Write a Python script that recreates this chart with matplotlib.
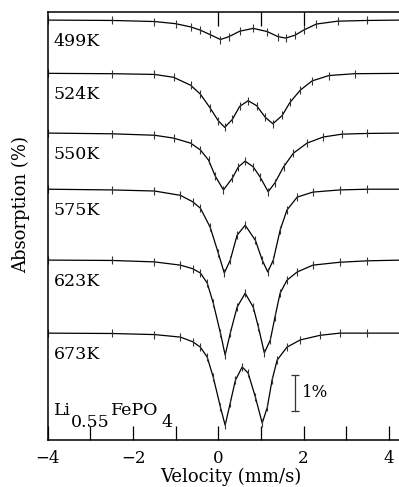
import matplotlib
matplotlib.use('Agg')
import matplotlib.pyplot as plt
from matplotlib.ticker import MultipleLocator

plt.rcParams['font.family'] = ['DejaVu Serif']

# fitted spectra, absorption depth (%)
temps = ['499K', '524K', '550K', '575K', '623K', '673K']
baselines = [11.67, 10.19, 8.53, 6.97, 5.0, 2.97]

v_499 = [-4, -2.5, -1.5, -1.0, -0.65, -0.42, -0.2, 0.05, 0.25, 0.5, 0.82, 1.15, 1.4, 1.58, 1.8, 2.0, 2.3, 2.8, 3.5, 4.3]
d_499 = [0, 0.01, 0.04, 0.1, 0.19, 0.28, 0.4, 0.54, 0.46, 0.31, 0.23, 0.32, 0.46, 0.5, 0.42, 0.28, 0.11, 0.03, 0.01, 0]

v_524 = [-4, -2.5, -1.5, -1.05, -0.65, -0.42, -0.2, 0, 0.15, 0.33, 0.5, 0.7, 0.9, 1.1, 1.28, 1.5, 1.68, 1.92, 2.2, 2.6, 3.2, 4.3]
d_524 = [0, 0.01, 0.03, 0.11, 0.33, 0.58, 0.95, 1.32, 1.5, 1.28, 0.92, 0.76, 0.9, 1.22, 1.4, 1.17, 0.81, 0.47, 0.21, 0.06, 0.01, 0]

v_550 = [-4, -2.5, -1.5, -1.05, -0.65, -0.42, -0.23, -0.07, 0.12, 0.33, 0.47, 0.63, 0.82, 0.98, 1.17, 1.33, 1.53, 1.76, 2.08, 2.46, 2.9, 3.5, 4.3]
d_550 = [0, 0.02, 0.06, 0.14, 0.28, 0.47, 0.75, 1.2, 1.58, 1.25, 0.94, 0.78, 0.94, 1.22, 1.63, 1.38, 0.94, 0.56, 0.28, 0.11, 0.03, 0.01, 0]

v_575 = [-4, -2.5, -1.5, -0.89, -0.6, -0.42, -0.19, 0, 0.14, 0.28, 0.44, 0.63, 0.87, 1.03, 1.16, 1.29, 1.45, 1.61, 1.85, 2.22, 2.85, 3.5, 4.3]
d_575 = [0, 0.02, 0.05, 0.17, 0.35, 0.53, 1.06, 1.78, 2.33, 1.97, 1.28, 1.0, 1.42, 1.97, 2.3, 1.97, 1.14, 0.58, 0.22, 0.08, 0.02, 0, 0]

v_623 = [-4, -2.5, -1.5, -0.89, -0.6, -0.42, -0.26, -0.12, 0.05, 0.16, 0.28, 0.44, 0.63, 0.82, 0.94, 1.08, 1.22, 1.33, 1.45, 1.61, 1.85, 2.22, 2.85, 3.5, 4.3]
d_623 = [0, 0.01, 0.05, 0.14, 0.24, 0.36, 0.64, 1.19, 2.03, 2.64, 2.03, 1.31, 0.92, 1.31, 1.86, 2.58, 2.22, 1.58, 0.92, 0.56, 0.33, 0.14, 0.06, 0.02, 0]

v_673 = [-4, -2.5, -1.5, -0.89, -0.6, -0.42, -0.26, -0.12, 0.05, 0.16, 0.28, 0.4, 0.56, 0.7, 0.87, 1.03, 1.15, 1.26, 1.38, 1.61, 1.92, 2.39, 2.85, 3.5, 4.3]
d_673 = [0, 0.01, 0.04, 0.11, 0.24, 0.39, 0.67, 1.22, 2.06, 2.56, 1.94, 1.31, 0.94, 1.11, 1.78, 2.5, 2.06, 1.31, 0.75, 0.39, 0.19, 0.06, 0, 0, 0]

velocities = [v_499, v_524, v_550, v_575, v_623, v_673]
depths = [d_499, d_524, d_550, d_575, d_623, d_673]

fig = plt.figure(figsize=(3.99, 4.87), dpi=100)
ax = fig.add_axes([0.12, 0.0965, 0.88, 0.8785])

for i in range(len(temps)):
    y = [baselines[i] - d for d in depths[i]]
    ax.plot(velocities[i], y, color='black', lw=0.9)
    ax.plot(velocities[i], y, ls='none', marker='|', ms=6, mew=0.8, color='#333333')
    ax.text(-3.86, baselines[i] - 0.36, temps[i], fontsize=12.5, va='top', ha='left')

# 1% scale bar
ax.errorbar([1.8], [1.31], yerr=[0.5], color='#333333', lw=0.9, capsize=3, capthick=0.9)
ax.text(1.97, 1.31, '1%', fontsize=12, va='center', ha='left')

# compound label with full size subscripts
t1 = ax.text(-3.86, 0.69, 'Li', fontsize=12.5, va='baseline', ha='left')
t2 = ax.annotate('0.55', xy=(1, 0), xycoords=t1, xytext=(0, -8.5), textcoords='offset points',
                 fontsize=12.5, va='bottom', ha='left')
t3 = ax.annotate('FePO', xy=(1, 0), xycoords=t2, xytext=(1, 8.5), textcoords='offset points',
                 fontsize=12.5, va='bottom', ha='left')
ax.annotate('4', xy=(1, 0), xycoords=t3, xytext=(2, -8.5), textcoords='offset points',
            fontsize=12.5, va='bottom', ha='left')

ax.set_xlim(-4, 4.24)
ax.set_ylim(0, 11.89)
ax.xaxis.set_major_locator(MultipleLocator(2))
ax.xaxis.set_minor_locator(MultipleLocator(1))
ax.tick_params(axis='x', which='both', direction='in', length=10, width=0.9, labelsize=12, pad=7)
ax.set_yticks([])
ax.spines['right'].set_visible(False)
for s in ['left', 'bottom', 'top']:
    ax.spines[s].set_linewidth(1.1)

sec = ax.secondary_xaxis('top')
sec.set_xticks([0, 1, 2])
sec.tick_params(direction='in', length=10, width=0.9, labeltop=False)
sec.spines['top'].set_visible(False)

ax.set_xlabel('Velocity (mm/s)', fontsize=13)
ax.set_ylabel('Absorption (%)', fontsize=13)
ax.xaxis.set_label_coords(0.52, -0.064)
ax.yaxis.set_label_coords(-0.05, 0.55)

fig.savefig('out.png', dpi=100)
